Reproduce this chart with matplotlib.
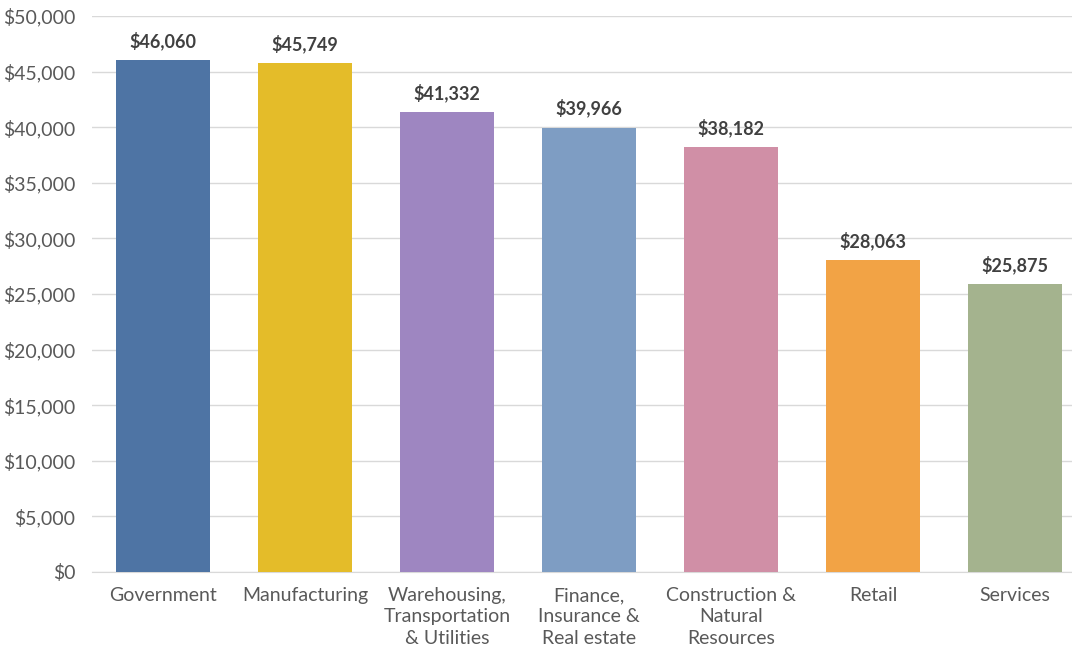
import matplotlib
matplotlib.use("Agg")
import matplotlib.pyplot as plt
from matplotlib.ticker import FuncFormatter, MultipleLocator

categories = ["Government", "Manufacturing", "Warehousing,\nTransportation\n& Utilities",
              "Finance,\nInsurance &\nReal estate", "Construction &\nNatural\nResources",
              "Retail", "Services"]
values = [46060, 45749, 41332, 39966, 38182, 28063, 25875]
colors = ["#4E74A4", "#E4BC29", "#9E86C1", "#7E9DC3", "#D08FA6", "#F2A345", "#A4B38E"]

plt.rcParams['font.family'] = ['Lato', 'DejaVu Sans']

fig = plt.figure(figsize=(10.72, 6.48), dpi=100)
ax = fig.add_axes([0.0858, 0.1173, 0.9142, 0.858])

x = list(range(len(categories)))
bars = ax.bar(x, values, width=0.66, color=colors, zorder=3)
for xi, v in zip(x, values):
    ax.text(xi, v + 900, f"${v:,}", ha="center", va="bottom", fontsize=13,
            fontweight="bold", color="#404040")

ax.set_ylim(0, 50000)
ax.set_xlim(-0.5, 6.4)
ax.yaxis.set_major_locator(MultipleLocator(5000))
ax.yaxis.set_major_formatter(FuncFormatter(lambda v, p: f"${int(v):,}"))
ax.grid(axis="y", color="#D9D9D9", linewidth=1, zorder=0)
for s in ["top", "right", "left"]:
    ax.spines[s].set_visible(False)
ax.spines["bottom"].set_color("#D9D9D9")
ax.tick_params(axis="both", length=0, labelsize=14, labelcolor="#595959")
ax.tick_params(axis="y", pad=12)
ax.tick_params(axis="x", pad=11)
ax.set_xticks(x)
ax.set_xticklabels(categories, linespacing=1.3)

fig.savefig("out.png", dpi=100)
